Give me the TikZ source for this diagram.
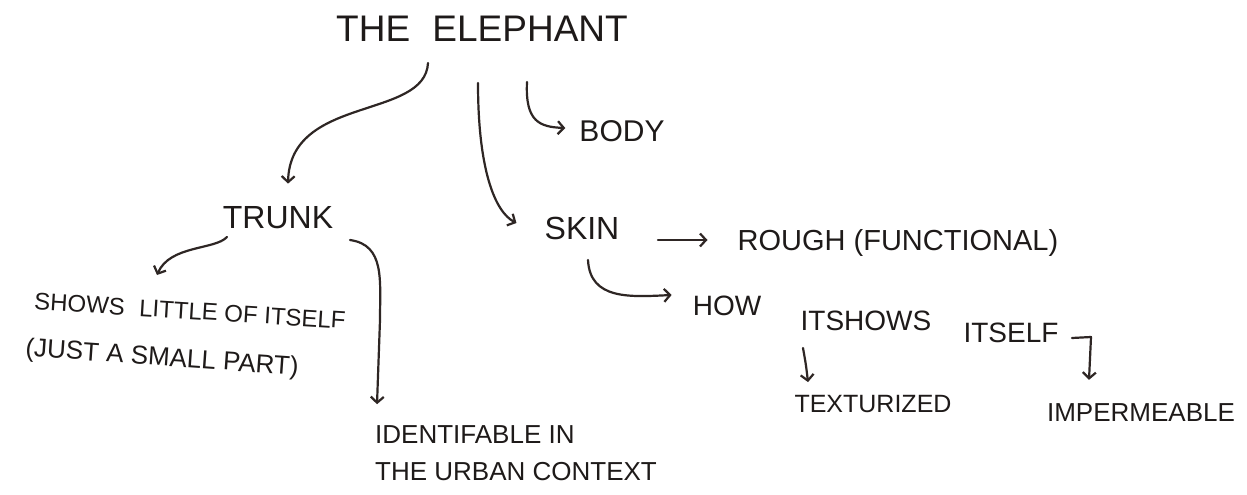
\documentclass[tikz,border=0pt]{standalone}
\usepackage{fontspec}
\setmainfont{Liberation Sans}
\usetikzlibrary{arrows.meta}
\definecolor{ink}{HTML}{1E1A19}
\definecolor{pen}{HTML}{2E2624}
\newcommand{\fs}[1]{\fontsize{#1}{#1}\selectfont}
\begin{document}
\begin{tikzpicture}[x=1pt,y=-1pt,
  lbl/.style={inner sep=0pt, text=ink, anchor=center},
  arr/.style={draw=pen, line width=2.2pt, line cap=round, line join=round,
    -{Straight Barb[length=6pt,width=13pt]}}]
\fill[white] (0,0) rectangle (1247,495);
\useasboundingbox (0,0) rectangle (1247,495);

% nodes
\node[lbl, font=\fs{37}] (title) at (482,29) {THE\hspace{0.6em}ELEPHANT};
\node[lbl, font=\fs{30}] (body) at (622,131) {BODY};
\node[lbl, font=\fs{32}] (trunk) at (278,218) {TRUNK};
\node[lbl, font=\fs{32}] (skin) at (582,228) {SKIN};
\node[lbl, font=\fs{29}] (rough) at (898,243) {ROUGH (FUNCTIONAL)};
\node[lbl, font=\fs{28}] (how) at (727,306) {HOW};
\node[lbl, font=\fs{28}] (itshows) at (866,321) {ITSHOWS};
\node[lbl, font=\fs{28}] (itself) at (1011,333) {ITSELF};
\node[lbl, font=\fs{25}] (textur) at (873,404) {TEXTURIZED};
\node[lbl, font=\fs{26}] (imperm) at (1141,413) {IMPERMEABLE};
\node[lbl, font=\fs{24}, rotate=-3.5] (shows) at (190,311) {SHOWS\hspace{0.6em}LITTLE OF ITSELF};
\node[lbl, font=\fs{26}, rotate=-4] (just) at (162,359) {(JUST A SMALL PART)};
\node[lbl, font=\fs{26}, anchor=west, align=left] (ident) at (375,453)
  {IDENTIFABLE IN\\[11pt]THE URBAN CONTEXT};

% free ends
\coordinate (a1) at (428,63);
\coordinate (a2) at (478,83);
\coordinate (a3) at (527,82);
\coordinate (s1) at (658,240);
\coordinate (s2) at (588,260);
\coordinate (t1) at (227,237);
\coordinate (t2) at (350,240);
\coordinate (i1) at (803,348);
\coordinate (i2) at (1072,338);

% connectors
\draw[arr] (a1) .. controls (425,120) and (290,95) .. ([xshift=10pt,yshift=23pt]trunk.north);
\draw[arr] (a2) .. controls (478,170) and (495,212) .. ([xshift=-28pt,yshift=5pt]skin.west);
\draw[arr] (a3) .. controls (525,122) and (540,127) .. ([xshift=-14pt,yshift=3pt]body.west);
\draw[arr] (s1) -- ([xshift=-30pt,yshift=3pt]rough.west);
\draw[arr] (s2) .. controls (590,300) and (630,297) .. ([xshift=-21pt,yshift=11pt]how.west);
\draw[arr] (t1) .. controls (215,250) and (170,245) .. ([xshift=-33pt,yshift=36pt]shows.center);
\draw[arr] (t2) .. controls (385,245) and (380,280) .. (380,320) -- ([xshift=2pt,yshift=21pt]ident.north west);
\draw[arr] (i1) .. controls (806,365) .. ([xshift=-65pt,yshift=13pt]textur.north);
\draw[arr] (i2) -- (1091,337) -- ([xshift=-52pt,yshift=24pt]imperm.north);
\end{tikzpicture}
\end{document}
